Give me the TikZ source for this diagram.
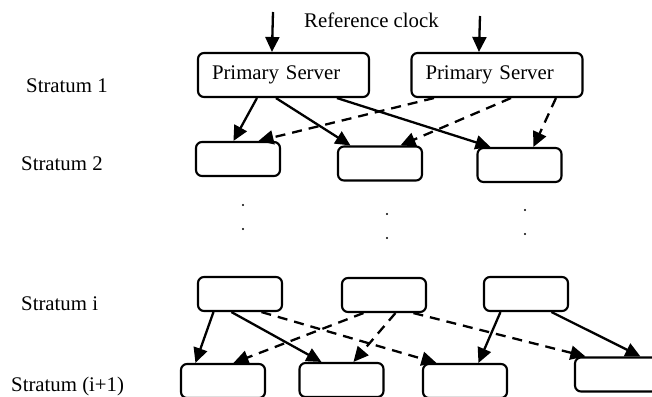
\documentclass[tikz,border=0pt]{standalone}
\usepackage{fontspec}
\setmainfont{Liberation Serif}
\usetikzlibrary{arrows.meta}
\tikzset{
  lbl/.style={inner sep=0pt, anchor=base west},
  sbox/.style={draw, line width=2.1pt, rounded corners=6pt, minimum width=84pt, minimum height=34pt, inner sep=0pt},
  pbox/.style={draw, line width=2.1pt, rounded corners=6pt, minimum width=171pt, minimum height=44pt, text width=143pt, inner xsep=14pt, inner ysep=0pt, align=left},
  solidarr/.style={line width=2.3pt, -{Triangle[length=15pt,width=14pt]}},
  dasharr/.style={line width=2.3pt, dash pattern=on 10pt off 7pt, -{Triangle[length=15pt,width=14pt]}},
  dotmark/.style={fill=black}
}
\begin{document}
\begin{tikzpicture}[x=1pt,y=-1pt,font=\fontsize{20.8pt}{25pt}\selectfont]
\useasboundingbox (0,0) rectangle (652,396);
% labels
\node[lbl] (s1) at (26,92) {Stratum 1};
\node[lbl] (s2) at (21,170) {Stratum 2};
\node[lbl] (si) at (21,310) {Stratum i};
\node[lbl] (si1) at (11,391) {Stratum (i+1)};
\node[lbl] (ref) at (304,28) {Reference clock};
% stratum 1
\node[pbox] (A1) at (283.5,75) {Primary Server};
\node[pbox] (A2) at (497,75) {Primary Server};
% stratum 2
\node[sbox] (B1) at (238,159) {};
\node[sbox] (B2) at (380,163.5) {};
\node[sbox] (B3) at (519.5,165) {};
% stratum i
\node[sbox] (C1) at (240,294) {};
\node[sbox] (C2) at (384,295) {};
\node[sbox] (C3) at (526,294) {};
% stratum i+1
\node[sbox] (D1) at (223,381) {};
\node[sbox] (D2) at (341.5,380) {};
\node[sbox] (D3) at (465,381) {};
\node[sbox] (D4) at (617,374.5) {};
% reference clock inputs
\coordinate (r1) at (273,12);
\coordinate (r2) at (480,16);
\draw[solidarr] (r1) -- ([xshift=75pt]A1.north west);
\draw[solidarr] (r2) -- ([xshift=68.5pt]A2.north west);
% stratum 1 -> 2
\draw[solidarr] ([xshift=60pt]A1.south west) -- ([xshift=38.5pt]B1.north west);
\draw[solidarr] ([xshift=79pt]A1.south west) -- ([xshift=13.5pt]B2.north west);
\draw[solidarr] ([xshift=140pt]A1.south west) -- ([xshift=14pt]B3.north west);
\draw[dasharr] ([xshift=23.5pt]A2.south west) -- ([xshift=63.5pt]B1.north west);
\draw[dasharr] ([xshift=100.5pt]A2.south west) -- ([xshift=63.5pt]B2.north west);
\draw[dasharr] ([xshift=145.5pt]A2.south west) -- ([xshift=57pt]B3.north west);
% dots
\fill[dotmark] (243,205) circle (1.1pt);
\fill[dotmark] (243,229) circle (1.1pt);
\fill[dotmark] (387,214) circle (1.1pt);
\fill[dotmark] (387,238) circle (1.1pt);
\fill[dotmark] (525,210) circle (1.1pt);
\fill[dotmark] (525,234) circle (1.1pt);
% stratum i -> i+1
\draw[solidarr] ([xshift=16.5pt]C1.south west) -- ([xshift=15.5pt]D1.north west);
\draw[solidarr] ([xshift=34.5pt]C1.south west) -- ([xshift=23pt]D2.north west);
\draw[dasharr] ([xshift=64.5pt]C1.south west) -- ([xshift=14.5pt]D3.north west);
\draw[dasharr] ([xshift=22.5pt]C2.south west) -- ([xshift=53.5pt]D1.north west);
\draw[dasharr] ([xshift=54.5pt]C2.south west) -- ([xshift=55pt]D2.north west);
\draw[dasharr] ([xshift=72.5pt]C2.south west) -- ([xshift=11.5pt]D4.north west);
\draw[solidarr] ([xshift=17.5pt]C3.south west) -- ([xshift=56.5pt]D3.north west);
\draw[solidarr] ([xshift=68.5pt]C3.south west) -- ([xshift=66.5pt]D4.north west);
\end{tikzpicture}
\end{document}
